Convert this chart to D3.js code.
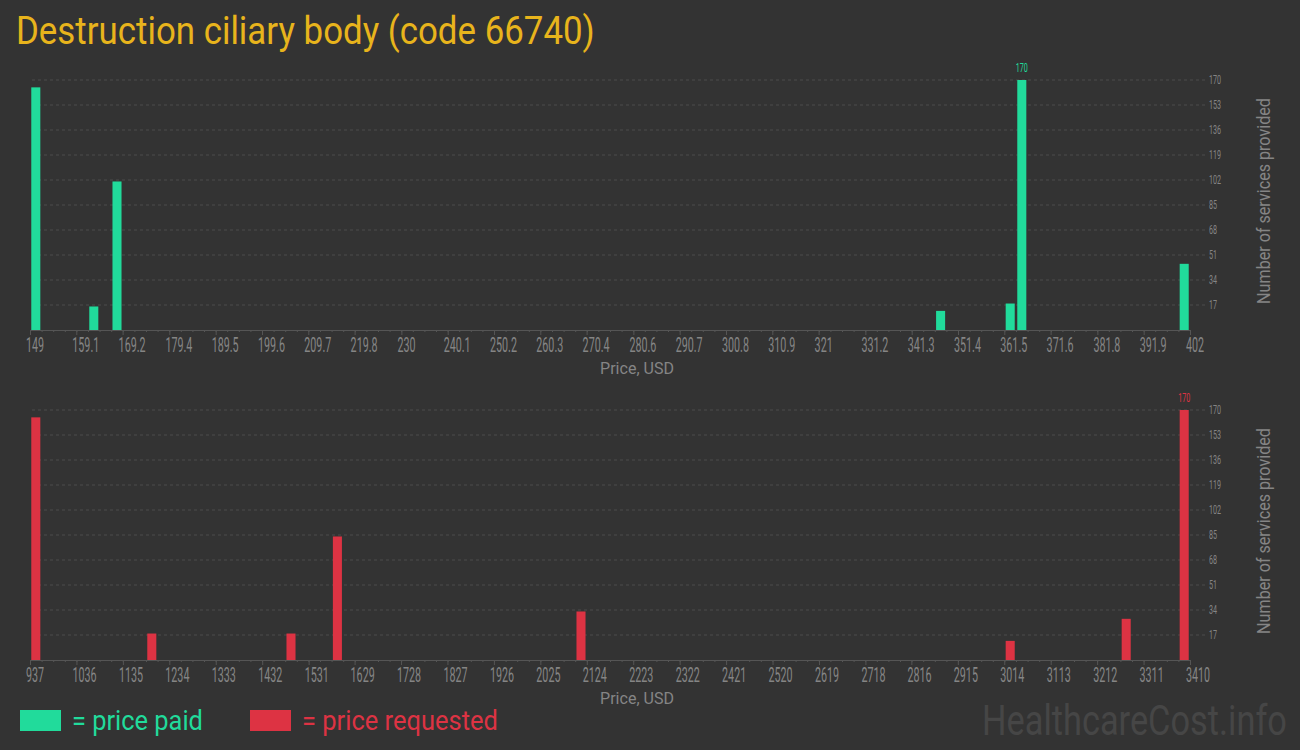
<!DOCTYPE html>
<html>
<head>
<meta charset="utf-8">
<script src="https://cdn.jsdelivr.net/npm/d3@7"></script>
<style>
  html, body { margin: 0; padding: 0; background: #333333; }
  svg { display: block; font-family: Roboto, "Noto Sans", sans-serif; }
</style>
</head>
<body>
<svg id="chart" width="1300" height="750"></svg>
<script>
// ---- data ----
const chartTitle = "Destruction ciliary body (code 66740)";
const binCount = 100;
const paidTicks = [149, 159.1, 169.2, 179.4, 189.5, 199.6, 209.7, 219.8, 230, 240.1, 250.2, 260.3, 270.4, 280.6, 290.7, 300.8, 310.9, 321, 331.2, 341.3, 351.4, 361.5, 371.6, 381.8, 391.9, 402];
const paidBins = [0, 5, 7, 78, 84, 85, 99];
const paidCounts = [165, 16, 101, 13, 18, 170, 45];
const requestedTicks = [937, 1036, 1135, 1234, 1333, 1432, 1531, 1629, 1728, 1827, 1926, 2025, 2124, 2223, 2322, 2421, 2520, 2619, 2718, 2816, 2915, 3014, 3113, 3212, 3311, 3410];
const requestedBins = [0, 10, 22, 26, 47, 84, 94, 99];
const requestedCounts = [165, 18, 18, 84, 33, 13, 28, 170];
const countTicks = [17, 34, 51, 68, 85, 102, 119, 136, 153, 170];
const countMax = 170;

const COLORS = { bg: "#333333", paid: "#21db9b", requested: "#dd3343", title: "#e8b41c",
                 text: "#858585", axis: "#555555", grid: "#4d4d4d", watermark: "#464646" };

const svg = d3.select("#chart");
svg.append("rect").attr("width", 1300).attr("height", 750).attr("fill", COLORS.bg);

// place a text at (x,y) and squeeze it horizontally to a target width
function fitText(parent, str, x, y, width, attrs, rotate) {
  const g = parent.append("g");
  const t = g.append("text").text(str);
  Object.entries(attrs).forEach(([k, v]) => t.attr(k, v));
  const natural = t.node().getComputedTextLength();
  const s = width / natural;
  g.attr("transform", `translate(${x},${y})` + (rotate ? ` rotate(${rotate})` : "") + ` scale(${s},1)`);
  return g;
}

// title
fitText(svg, chartTitle, 16, 44, 579, { "font-size": 38, fill: COLORS.title });

function panel(opts) {
  const { ticks, bins, counts, color, yBase, yTop } = opts;
  const left = 30, right = 1190;
  const g = svg.append("g");

  const x = d3.scaleLinear().domain([ticks[0], ticks[ticks.length - 1]]).range([left, right]);
  const xb = d3.scaleBand().domain(d3.range(binCount)).range([left, right]).paddingInner(0.22).paddingOuter(0.11);
  const xMinor = d3.scaleLinear().domain([0, binCount]).range([left, right]);
  const y = d3.scaleLinear().domain([0, countMax]).range([yBase, yTop]);

  // gridlines
  g.append("g").selectAll("line").data(countTicks).join("line")
    .attr("x1", left + 2).attr("x2", right + 15)
    .attr("y1", d => y(d)).attr("y2", d => y(d))
    .attr("stroke", COLORS.grid).attr("stroke-width", 1).attr("stroke-dasharray", "3,3");

  // right count labels
  const ys = 0.55;
  g.append("g").selectAll("text").data(countTicks).join("text")
    .attr("transform", d => `translate(1209,${y(d) + 4}) scale(${ys},1)`)
    .attr("font-size", 13).attr("fill", COLORS.text)
    .text(d => d);

  // minor ticks
  const minorAxis = d3.axisBottom(xMinor).tickValues(d3.range(binCount + 1)).tickSize(2).tickFormat("");
  const gm = g.append("g").attr("transform", `translate(0,${yBase})`).call(minorAxis);
  gm.select(".domain").remove();
  gm.selectAll("line").attr("stroke", COLORS.axis);

  // major axis
  const xs = 0.55;
  const axis = d3.axisBottom(x).tickValues(ticks).tickSize(5).tickSizeOuter(0).tickFormat(d => String(d));
  const ga = g.append("g").attr("transform", `translate(0,${yBase})`).call(axis);
  ga.select(".domain").attr("stroke", COLORS.axis);
  ga.selectAll(".tick line").attr("stroke", COLORS.axis);
  ga.selectAll(".tick text")
    .attr("fill", COLORS.text).attr("font-size", 19.5).attr("font-family", "Roboto, sans-serif")
    .attr("text-anchor", "start").attr("dy", null).attr("y", 22)
    .attr("x", -4.5 / xs)
    .attr("transform", `scale(${xs},1)`);

  // bars
  const data = bins.map((b, i) => ({ bin: b, count: counts[i] }));
  g.append("g").selectAll("rect").data(data).join("rect")
    .attr("x", d => xb(d.bin)).attr("width", xb.bandwidth())
    .attr("y", d => y(d.count)).attr("height", d => yBase - y(d.count))
    .attr("fill", color);

  // max label
  const maxD = data.reduce((a, b) => (b.count > a.count ? b : a));
  g.append("text")
    .attr("transform", `translate(${xb(maxD.bin) + xb.bandwidth() / 2},${y(maxD.count) - 8}) scale(0.55,1)`)
    .attr("text-anchor", "middle").attr("font-size", 13).attr("fill", color)
    .text(maxD.count);

  // x axis title
  fitText(g, "Price, USD", 637, yBase + 44, 74,
    { "font-size": 17, fill: COLORS.text, "text-anchor": "middle" });

  // y axis title
  fitText(g, "Number of services provided", 1270, (yBase + yTop) / 2 - 4, 206,
    { "font-size": 19, fill: COLORS.text, "text-anchor": "middle" }, -90);
}

panel({ ticks: paidTicks, bins: paidBins, counts: paidCounts, color: COLORS.paid, yBase: 330, yTop: 80 });
panel({ ticks: requestedTicks, bins: requestedBins, counts: requestedCounts, color: COLORS.requested, yBase: 660, yTop: 410 });

// legend
const legendItems = [
  { label: "= price paid", color: COLORS.paid, x: 20, len: 131 },
  { label: "= price requested", color: COLORS.requested, x: 250, len: 196 }
];
const lg = svg.append("g");
legendItems.forEach(it => {
  lg.append("rect").attr("x", it.x).attr("y", 710).attr("width", 41).attr("height", 21).attr("fill", it.color);
  fitText(lg, it.label, it.x + 52, 730, it.len, { "font-size": 27, fill: it.color });
});

// watermark
fitText(svg, "HealthcareCost.info", 982, 735, 305, { "font-size": 42, fill: COLORS.watermark });
</script>
</body>
</html>
